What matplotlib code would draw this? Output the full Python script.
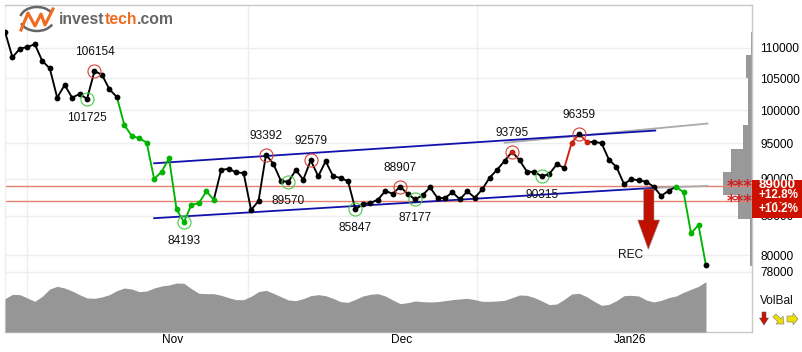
import matplotlib
matplotlib.use('Agg')
import matplotlib.pyplot as plt
from matplotlib.patches import Arc, Polygon, Rectangle
from matplotlib.ticker import FixedLocator, FixedFormatter, NullLocator

plt.rcParams['font.family'] = ['Liberation Sans', 'DejaVu Sans']

# closing prices, oldest first
prices = [112787, 108441, 109882, 110169, 110627, 107827, 106625, 101920, 103926, 101920,
          102500, 101725, 106154, 105583, 103244, 102030, 97738, 96100, 95763, 95120,
          89960, 90970, 92860, 85870, 84193, 86480, 86670, 88270, 87140, 91250,
          91350, 90880, 90780, 85780, 86970, 93392, 92050, 89680, 89570, 91210,
          89860, 92579, 90330, 92440, 90330, 90110, 89640, 85847, 86560, 86700,
          87140, 88310, 87950, 88907, 87910, 87177, 87730, 88810, 87370, 87370,
          88140, 87190, 88270, 87410, 88540, 90150, 91250, 92490, 93795, 92590,
          90970, 90930, 90315, 90670, 92010, 91500, 95120, 96359, 95260, 95260,
          95030, 92640, 91640, 89270, 89920, 89780, 89570, 88890, 87640, 88360,
          88890, 88140, 82760, 83820, 78770]
volume = [100, 113, 112, 102, 92, 107, 129, 137, 132, 123, 112, 102, 101, 105, 112, 124,
          132, 129, 121, 123, 132, 138, 141, 147, 146, 130, 116, 115, 115, 110, 103, 97,
          97, 107, 121, 125, 116, 106, 96, 94, 100, 109, 112, 109, 101, 91, 89, 98, 108,
          113, 115, 108, 96, 85, 88, 93, 91, 90, 91, 94, 97, 99, 101, 97, 92, 92, 93, 95,
          103, 111, 110, 103, 93, 82, 84, 98, 114, 116, 106, 92, 80, 83, 94, 109, 110, 108,
          96, 90, 95, 103, 108, 119, 128, 137, 151]

# (first, last) index of coloured line runs
green_runs = [(15, 28), (90, 94)]
red_runs = [(75, 78)]
green_points = list(range(16, 29)) + [90, 91, 92, 93]
red_points = [68, 76, 78]

peaks = [12, 35, 41, 53, 68, 77]
troughs = [11, 24, 38, 47, 55, 72]

upper_trend_x, upper_trend_y = [20, 87.2], [92150, 96900]
lower_trend_x, lower_trend_y = [20, 87.2], [84700, 88750]
upper_ext_x, upper_ext_y = [67, 94.2], [95100, 97950]
lower_ext_x, lower_ext_y = [87.2, 94.2], [88750, 89000]
signal_lines = [88950, 86900]

hist_edges = [112800, 108820, 104980, 101280, 97700, 94260, 90930, 87720, 84630, 81640, 78760]
hist_vol = [1, 6, 4.3, 4.3, 9, 21, 29, 14, 2.5, 2]

price_ticks = [110000, 105000, 100000, 95000, 90000, 85000, 80000, 78000]
month_pos = [22.5, 53.2, 83.8]
month_labels = ['Nov', 'Dec', 'Jan26']
vgrid_pos = [3, 32.6, 63.3]

W, H = 802, 352
L, R, T, B = 5, 752, 4.5, 332
STEP = 7.457
xmax = (R - L) / STEP

BLACK = '#000000'
GREEN = '#00b400'
RED = '#cc2211'
FRAME = '#c8c8c8'
GRID = '#eeeeee'
HIST = '#999999'

fig = plt.figure(figsize=(W / 100, H / 100), dpi=100)
ax = fig.add_axes([L / W, 1 - B / H, (R - L) / W, (B - T) / H])
ax.set_yscale('log')
ax.set_xlim(0, xmax)
ax.set_ylim(71120, 117596)

ax.set_axisbelow(True)
ax.yaxis.tick_right()
ax.yaxis.set_major_locator(FixedLocator(price_ticks))
ax.yaxis.set_major_formatter(FixedFormatter([str(p) for p in price_ticks]))
ax.yaxis.set_minor_locator(NullLocator())
ax.set_xticks(month_pos)
ax.set_xticklabels(month_labels)
ax.set_xticks(vgrid_pos, minor=True)
ax.tick_params(axis='both', which='both', length=0)
ax.tick_params(axis='y', labelsize=8.6, pad=6)
ax.tick_params(axis='x', labelsize=8.6, pad=1.5)
ax.grid(True, axis='y', which='major', color=GRID, lw=1)
ax.grid(True, axis='x', which='minor', color=GRID, lw=1)
ax.grid(False, axis='x', which='major')
for s in ax.spines.values():
    s.set_color(FRAME)
    s.set_linewidth(1)
ax.spines['left'].set_color(GRID)

# volume by price, growing from the right edge
ax.barh(hist_edges[:-1], [v / STEP for v in hist_vol],
        height=[b - a for a, b in zip(hist_edges[:-1], hist_edges[1:])],
        left=[xmax - v / STEP for v in hist_vol], align='edge', color=HIST, lw=0, zorder=1.5)

for y in signal_lines:
    ax.plot([0, xmax], [y, y], color='#e58070', lw=1, zorder=2)

ax.plot(upper_ext_x, upper_ext_y, color='#aaaaaa', lw=1.3, zorder=2.1)
ax.plot(lower_ext_x, lower_ext_y, color='#aaaaaa', lw=1.3, zorder=2.1)
ax.plot(upper_trend_x, upper_trend_y, color='#1111aa', lw=1.3, zorder=2.2)
ax.plot(lower_trend_x, lower_trend_y, color='#1111aa', lw=1.3, zorder=2.2)


def seg_color(i):
    for a, b in green_runs:
        if a <= i < b:
            return GREEN
    for a, b in red_runs:
        if a <= i < b:
            return RED
    return BLACK


for i in range(len(prices) - 1):
    ax.plot([i, i + 1], prices[i:i + 2], color=seg_color(i), lw=1.35, zorder=3,
            solid_capstyle='round')
for i, p in enumerate(prices):
    c = GREEN if i in green_points else RED if i in red_points else BLACK
    ax.plot(i, p, 'o', color=c, ms=4.2, mew=0, zorder=4)

for i in peaks:
    ax.plot(i, prices[i], 'o', mfc='none', mec='#d84030', ms=9.4, mew=0.8, zorder=5)
    ax.annotate(str(prices[i]), (i, prices[i]), xytext=(0, 13.7), textcoords='offset points',
                ha='center', va='center', fontsize=8.6, color='#111111', zorder=6)
for i in troughs:
    ax.plot(i, prices[i], 'o', mfc='none', mec='#44cc44', ms=9.4, mew=0.8, zorder=5)
    ax.annotate(str(prices[i]), (i, prices[i]), xytext=(0, -13.7), textcoords='offset points',
                ha='center', va='center', fontsize=8.6, color='#111111', zorder=6)

# volume balance area along the bottom
vol_ax = fig.add_axes([L / W, 1 - B / H, (R - L) / W, 60 / H])
vol_ax.patch.set_alpha(0)
vol_ax.set_xlim(0, xmax)
vol_ax.set_ylim(0, 180)
vol_ax.axis('off')
vol_ax.fill_between(range(len(volume)), volume, 0, color='#969696', lw=0)

# overlay in pixel coordinates: logo, signal box, arrows
deco = fig.add_axes([0, 0, 1, 1])
deco.patch.set_alpha(0)
deco.set_xlim(0, W)
deco.set_ylim(H, 0)
deco.axis('off')

deco.add_patch(Arc((37, 19), 34, 24, theta1=190, theta2=335, color='#666666', lw=1.8))
deco.add_patch(Arc((37, 19), 34, 24, theta1=20, theta2=165, color='#666666', lw=1.8))
deco.plot([21, 28, 35, 41, 45, 53], [30, 13, 26, 14, 25, 9], color='#f06a20', lw=2.2)
deco.text(59, 20, 'invest', color='#666666', fontsize=11.3, fontweight='bold', va='center')
deco.text(105, 20, 'tech', color='#f06a20', fontsize=11.3, fontweight='bold', va='center')
deco.text(136.5, 20, '.com', color='#666666', fontsize=11.3, fontweight='bold', va='center')

deco.add_patch(Rectangle((752, 180), 50, 37.7, color='#cc1100', lw=0))
deco.text(777, 185.5, '89000', color='white', fontsize=9.6, fontweight='bold', ha='center', va='center')
deco.text(778.5, 195, '+12.8%', color='white', fontsize=8.4, fontweight='bold', ha='center', va='center')
deco.text(778, 202.5, '- - - -', color='white', fontsize=6, fontweight='bold', ha='center', va='center')
deco.text(778.5, 209.5, '+10.2%', color='white', fontsize=8.4, fontweight='bold', ha='center', va='center')
deco.text(739.5, 187, '***', color='#d42020', fontsize=12, fontweight='bold', ha='center', va='center',
          family='DejaVu Sans')
deco.text(739.5, 202, '***', color='#d42020', fontsize=12, fontweight='bold', ha='center', va='center',
          family='DejaVu Sans')

deco.add_patch(Polygon([(643.7, 189), (654, 189), (654, 220), (659.7, 220), (648.3, 249.5),
                        (637.7, 220), (643.7, 220)], fc='#c01000', ec='#999999', lw=0.4))
deco.text(631, 254.5, 'REC', fontsize=8.6, color='#111111', ha='center', va='center')

deco.text(776.5, 300.5, 'VolBal', fontsize=8.6, color='#111111', ha='center', va='center')
deco.add_patch(Polygon([(762, 312), (766, 312), (766, 318), (768.5, 318), (764, 325), (759.5, 318), (762, 318)],
                       fc='#cc1100', ec='#555555', lw=0.4))
deco.add_patch(Polygon([(773, 317), (776, 314), (781, 319), (783, 316), (784, 324), (776, 324), (778, 322)],
                       fc='#eedd00', ec='#777777', lw=0.4))
deco.add_patch(Polygon([(787, 316), (793, 316), (793, 313), (798, 319), (793, 325), (793, 322), (787, 322)],
                       fc='#eedd00', ec='#777777', lw=0.4))

fig.savefig('out.png', dpi=100)
